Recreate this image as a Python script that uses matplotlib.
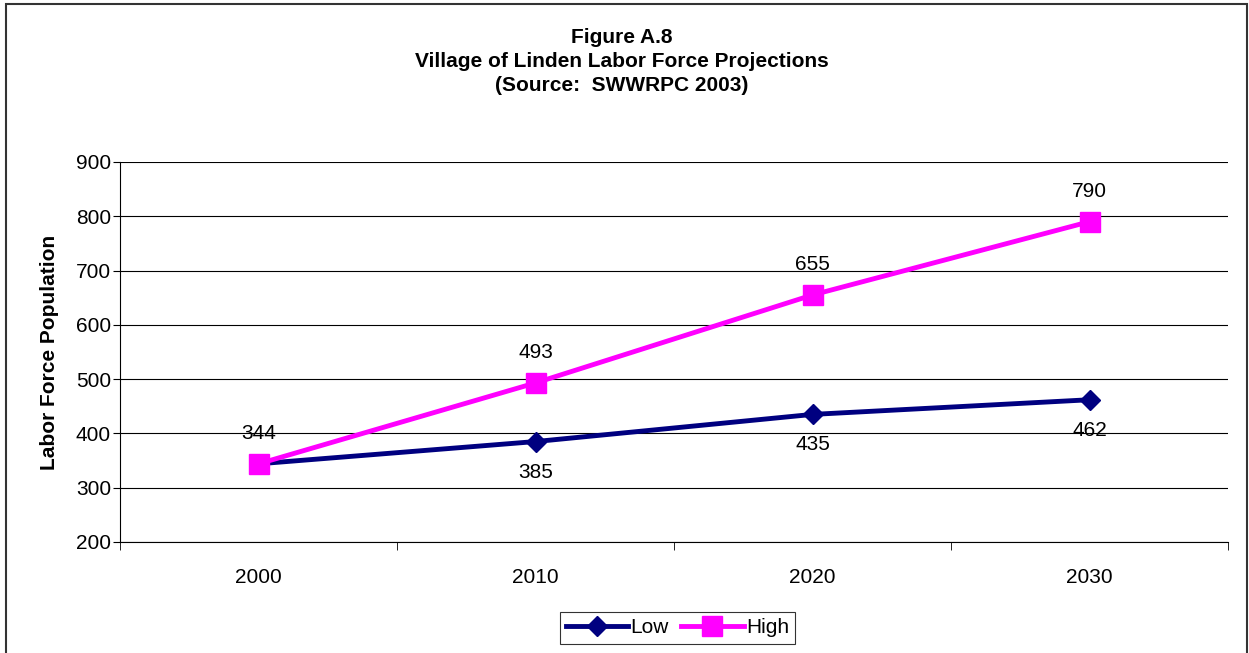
import matplotlib.pyplot as plt
from matplotlib import patches

plt.rcParams['font.family'] = ['Liberation Sans', 'DejaVu Sans']

years = ['2000', '2010', '2020', '2030']
low = [344, 385, 435, 462]
high = [344, 493, 655, 790]
low_labels = [None, '385', '435', '462']
high_labels = ['344', '493', '655', '790']

FS = 15

fig = plt.figure(figsize=(12.49, 6.53), dpi=100)
ax = fig.add_axes([0.0961, 0.170, 0.8871, 0.582])

x = list(range(len(years)))
ax.plot(x, low, color='#000080', lw=3.5, marker='D', markersize=10, label='Low', zorder=3)
ax.plot(x, high, color='#FF00FF', lw=3.5, marker='s', markersize=14.5, label='High', zorder=4)

for xi, v, t in zip(x, high, high_labels):
    ax.annotate(t, (xi, v), xytext=(0, 22), textcoords='offset points',
                ha='center', va='center', fontsize=FS)
for xi, v, t in zip(x, low, low_labels):
    if t:
        ax.annotate(t, (xi, v), xytext=(0, -22), textcoords='offset points',
                    ha='center', va='center', fontsize=FS)

ax.set_xlim(-0.5, 3.5)
ax.set_ylim(200, 900)
ax.set_yticks(range(200, 1000, 100))
ax.yaxis.grid(True, color='black', lw=0.8)
ax.set_axisbelow(True)
ax.set_xticks(x)
ax.set_xticklabels(years, fontsize=FS)
ax.tick_params(axis='x', length=0, pad=19)
ax.set_xticks([-0.5, 0.5, 1.5, 2.5, 3.5], minor=True)
ax.tick_params(axis='x', which='minor', length=6, direction='out')
ax.tick_params(axis='y', labelsize=FS, length=5, direction='out', pad=1.5)
for s in ['top', 'right']:
    ax.spines[s].set_visible(False)
ax.set_ylabel('Labor Force Population', fontsize=FS, fontweight='bold', labelpad=12)

fig.text(0.498, 0.957, 'Figure A.8\nVillage of Linden Labor Force Projections\n(Source:  SWWRPC 2003)',
         ha='center', va='top', fontsize=FS, fontweight='bold', linespacing=1.34)

leg = ax.legend(loc='center', bbox_to_anchor=(0.503, -0.226), ncol=2, fontsize=FS,
                frameon=True, fancybox=False, edgecolor='black', handlelength=3.0,
                columnspacing=0.6, handletextpad=0.1, borderpad=0.3, borderaxespad=0)
leg.get_frame().set_linewidth(0.8)

fig.patches.append(patches.Rectangle((0.0048, -0.01), 0.9936, 1.004, transform=fig.transFigure,
                                     fill=False, edgecolor='#333333', lw=1.5))

fig.savefig('out.png', dpi=100)
